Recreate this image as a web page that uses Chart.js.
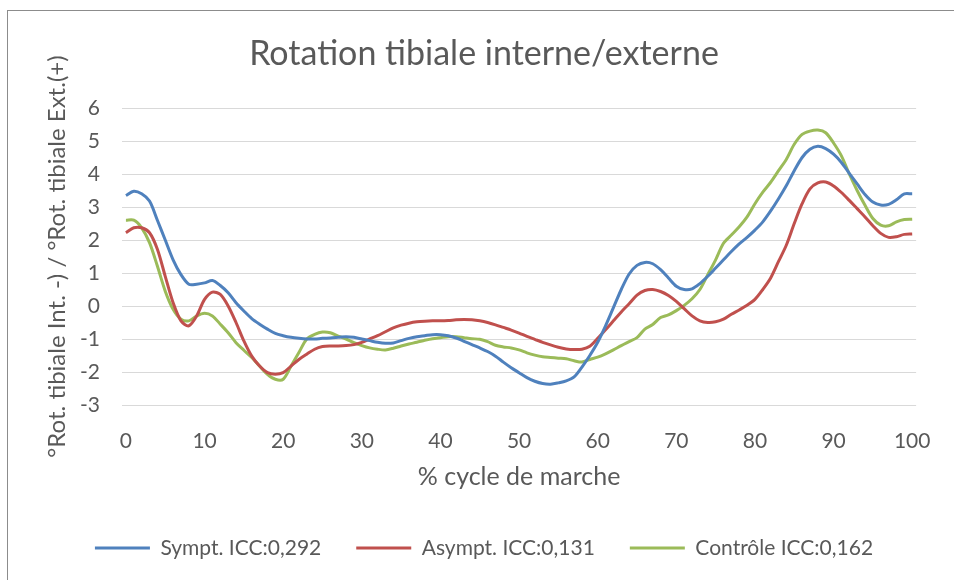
<!DOCTYPE html>
<html>
<head>
<meta charset="utf-8">
<script src="https://cdn.jsdelivr.net/npm/chart.js@4/dist/chart.umd.min.js"></script>
<style>
  html, body { margin: 0; padding: 0; background: #ffffff; }
  #wrap { position: relative; width: 954px; height: 580px; overflow: hidden; }
  #frame { position: absolute; left: 7px; top: 10px; width: 960px; height: 600px;
           border-left: 1px solid #8c8c8c; border-top: 1px solid #8c8c8c; }
  canvas { position: absolute; left: 0; top: 0; }
</style>
</head>
<body>
<div id="wrap">
  <div id="frame"></div>
  <canvas id="c" width="954" height="580"></canvas>
</div>
<script>
const chartTitle = "Rotation tibiale interne/externe";
const xTitle = "% cycle de marche";
const yTitle = "°Rot. tibiale Int. -) / °Rot. tibiale Ext.(+)";
const seriesNames = ["Sympt. ICC:0,292", "Asympt. ICC:0,131", "Contrôle ICC:0,162"];

const pct = [0,1,2,3,4,5,6,7,8,9,10,11,12,13,14,15,16,17,18,19,20,21,22,23,24,25,26,27,28,29,30,
  31,32,33,34,35,36,37,38,39,40,41,42,43,44,45,46,47,48,49,50,51,52,53,54,55,56,57,58,59,60,
  61,62,63,64,65,66,67,68,69,70,71,72,73,74,75,76,77,78,79,80,81,82,83,84,85,86,87,88,89,90,
  91,92,93,94,95,96,97,98,99,100];

const sympt = [3.35,3.48,3.4,3.18,2.6,2.0,1.4,0.95,0.66,0.66,0.7,0.77,0.62,0.4,0.1,-0.15,-0.38,-0.55,-0.7,-0.83,
  -0.9,-0.95,-0.98,-1.0,-1.0,-0.98,-0.97,-0.95,-0.93,-0.95,-1.0,-1.05,-1.1,-1.13,-1.12,-1.05,-0.98,-0.93,-0.9,-0.87,
  -0.87,-0.9,-0.97,-1.07,-1.17,-1.27,-1.38,-1.52,-1.7,-1.87,-2.02,-2.17,-2.28,-2.35,-2.37,-2.33,-2.27,-2.15,-1.85,-1.5,
  -1.1,-0.6,-0.05,0.5,0.97,1.23,1.32,1.28,1.1,0.85,0.6,0.5,0.52,0.68,0.9,1.15,1.4,1.65,1.88,2.08,
  2.3,2.55,2.88,3.25,3.65,4.1,4.5,4.75,4.84,4.77,4.6,4.35,4.02,3.7,3.38,3.15,3.06,3.08,3.22,3.4,3.4];

const asympt = [2.22,2.37,2.37,2.22,1.72,0.9,0.1,-0.45,-0.6,-0.3,0.2,0.42,0.35,0.0,-0.5,-1.06,-1.52,-1.82,-2.02,-2.07,
  -2.02,-1.82,-1.62,-1.46,-1.31,-1.23,-1.21,-1.21,-1.2,-1.17,-1.1,-1.0,-0.9,-0.78,-0.66,-0.58,-0.52,-0.48,-0.46,-0.45,
  -0.45,-0.44,-0.42,-0.41,-0.42,-0.45,-0.5,-0.57,-0.65,-0.73,-0.82,-0.92,-1.01,-1.1,-1.18,-1.25,-1.3,-1.32,-1.31,-1.22,
  -0.98,-0.72,-0.45,-0.18,0.07,0.33,0.47,0.5,0.44,0.32,0.14,-0.08,-0.3,-0.45,-0.5,-0.48,-0.4,-0.25,-0.12,0.02,
  0.2,0.5,0.85,1.35,1.85,2.5,3.1,3.55,3.73,3.76,3.64,3.44,3.2,2.95,2.7,2.43,2.2,2.08,2.1,2.17,2.18];

const controle = [2.6,2.6,2.37,1.92,1.21,0.45,-0.1,-0.4,-0.45,-0.3,-0.22,-0.3,-0.55,-0.81,-1.11,-1.34,-1.56,-1.82,-2.07,-2.22,
  -2.22,-1.82,-1.41,-1.0,-0.86,-0.79,-0.81,-0.91,-1.0,-1.11,-1.2,-1.27,-1.31,-1.33,-1.28,-1.21,-1.15,-1.1,-1.04,-0.99,
  -0.96,-0.93,-0.93,-0.96,-0.99,-1.01,-1.08,-1.19,-1.24,-1.27,-1.33,-1.42,-1.49,-1.54,-1.56,-1.58,-1.6,-1.66,-1.7,-1.62,
  -1.55,-1.45,-1.33,-1.2,-1.08,-0.96,-0.7,-0.56,-0.35,-0.27,-0.14,0.02,0.22,0.5,0.95,1.4,1.9,2.15,2.4,2.7,
  3.1,3.45,3.75,4.1,4.45,4.9,5.2,5.3,5.33,5.25,4.94,4.55,4.0,3.5,3.05,2.65,2.45,2.43,2.55,2.62,2.63];

const colors = ["#4F81BD", "#C0504D", "#9BBB59"];
const textColor = "#595959";
const fontFamily = "Lato, 'Open Sans', sans-serif";
const legendBoxHeight = 77.5;

// keep the legend's wide horizontal item spacing without letting it eat vertical space
const legendHeightFix = {
  id: 'legendHeightFix',
  beforeLayout(chart) {
    const lg = chart.legend;
    if (lg && !lg._heightPatched) {
      const origFit = lg.fit;
      lg.fit = function () { origFit.call(this); this.height = legendBoxHeight; };
      lg._heightPatched = true;
    }
  }
};

const ctx = document.getElementById('c').getContext('2d');
new Chart(ctx, {
  type: 'line',
  plugins: [legendHeightFix],
  data: {
    labels: pct,
    datasets: [sympt, asympt, controle].map((vals, i) => ({
      label: seriesNames[i],
      data: vals,
      borderColor: colors[i],
      backgroundColor: colors[i],
      borderWidth: 3,
      pointRadius: 0,
      tension: 0.3,
      fill: false
    }))
  },
  options: {
    responsive: false,
    animation: false,
    devicePixelRatio: 1,
    layout: { padding: { left: 43, right: 29, top: 0, bottom: 0 } },
    plugins: {
      tooltip: { enabled: false },
      title: {
        display: true,
        text: chartTitle,
        color: textColor,
        font: { family: fontFamily, size: 34, weight: 'normal' },
        padding: { top: 33.6, bottom: 33.6 }
      },
      legend: {
        position: 'bottom',
        labels: {
          color: textColor,
          font: { family: fontFamily, size: 21 },
          boxWidth: 55,
          boxHeight: 3,
          padding: 35,
          generateLabels: (chart) => chart.data.datasets.map((ds, i) => ({
            text: ds.label,
            fillStyle: ds.borderColor,
            strokeStyle: ds.borderColor,
            lineWidth: 0,
            hidden: false,
            datasetIndex: i,
            fontColor: textColor
          }))
        }
      }
    },
    scales: {
      x: {
        type: 'category',
        offset: true,
        grid: { display: false, drawTicks: false },
        border: { display: false },
        ticks: {
          autoSkip: false,
          maxRotation: 0,
          minRotation: 0,
          padding: 23.4,
          color: textColor,
          font: { family: fontFamily, size: 21 },
          callback: function (val, i) { return (pct[i] % 10 === 0) ? String(pct[i]) : null; }
        },
        title: {
          display: true,
          text: xTitle,
          color: textColor,
          font: { family: fontFamily, size: 25 },
          padding: { top: 0, bottom: 10.5 }
        },
        afterFit: (scale) => { scale.height = 97.5; }
      },
      y: {
        min: -3,
        max: 6,
        grid: { color: '#d9d9d9', lineWidth: 1, drawTicks: false },
        border: { display: false },
        ticks: {
          stepSize: 1,
          padding: 22,
          color: textColor,
          font: { family: fontFamily, size: 21 }
        },
        title: {
          display: true,
          text: yTitle,
          color: textColor,
          font: { family: fontFamily, size: 24 },
          padding: { top: 0, bottom: 0 }
        },
        afterFit: (scale) => { scale.width = 79; }
      }
    }
  }
});
</script>
</body>
</html>
